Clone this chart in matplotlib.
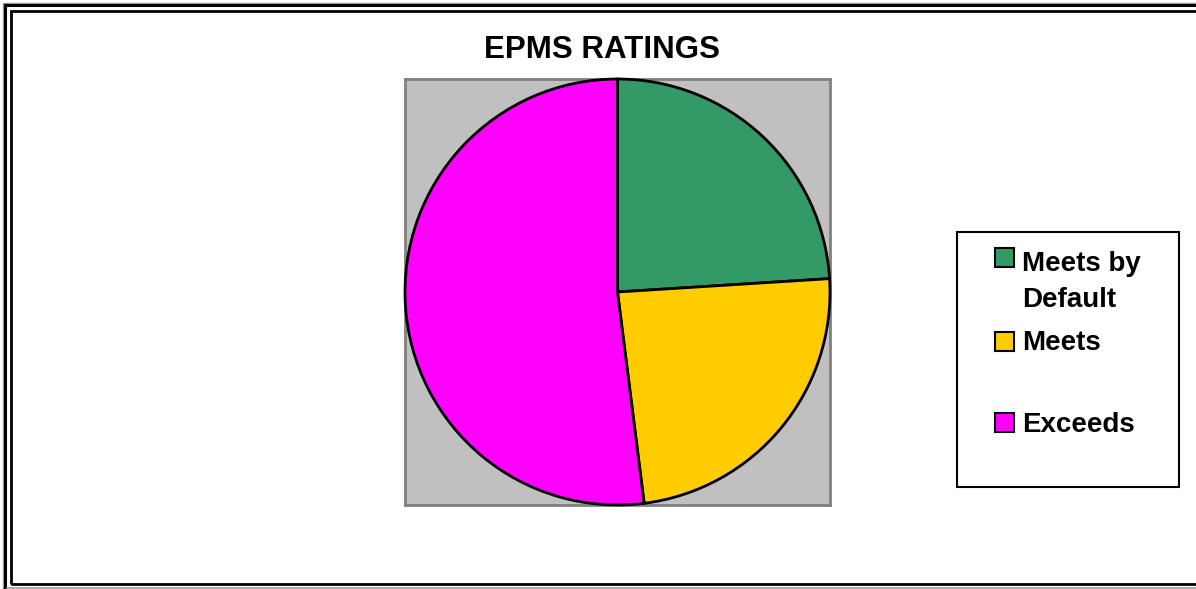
import matplotlib
matplotlib.use("Agg")
import matplotlib.pyplot as plt
from matplotlib.patches import Rectangle
from matplotlib.lines import Line2D

plt.rcParams['font.family'] = ['Liberation Sans', 'DejaVu Sans']

# Rating categories and their counts
categories = ["Meets by\nDefault", "Meets", "Exceeds"]
counts = [6, 6, 13]
colors = ["#339966", "#FFCC00", "#FF00FF"]
title = "EPMS RATINGS"

W, H = 1196, 589
fig = plt.figure(figsize=(W / 100, H / 100), dpi=100)
fig.patch.set_facecolor("white")


def fx(x):
    return x / W


def fy(y):
    return 1 - y / H


def frame_rect(x0, y0, x1, y1, color, lw):
    fig.patches.append(Rectangle((fx(x0), fy(y1)), fx(x1) - fx(x0), fy(y0) - fy(y1),
                                 transform=fig.transFigure, fill=False,
                                 edgecolor=color, linewidth=lw, zorder=0))


# Double border around the chart area
frame_rect(3, 3, 1199, 600, "#999999", 1.0)
frame_rect(5, 5, 1199, 600, "black", 2.2)
frame_rect(10.5, 10.5, 1199, 584, "black", 2.0)
fig.lines.append(Line2D([fx(7), fx(1199)], [fy(587.5), fy(587.5)],
                        transform=fig.transFigure, color="#999999", linewidth=1.2))

# Plot area holding the pie
ax = fig.add_axes([fx(405), fy(505), fx(830) - fx(405), fy(79) - fy(505)])
ax.set_facecolor("#C0C0C0")
wedges, _ = ax.pie(counts, colors=colors, startangle=90, counterclock=False,
                   radius=1.0, center=(0, 0), frame=True,
                   wedgeprops=dict(edgecolor="black", linewidth=2))
for w in wedges:
    w.set_clip_on(False)
    w.set_zorder(3)
ax.set_xlim(-1.0, 1.0)
ax.set_ylim(-1.0, 1.0)
ax.set_aspect("auto")
ax.set_xticks([])
ax.set_yticks([])
for s in ax.spines.values():
    s.set_color("#808080")
    s.set_linewidth(2)

fig.text(fx(601.5), fy(58.5), title, ha="center", va="baseline",
         fontsize=22.5, fontweight="bold")

# Legend box
fig.patches.append(Rectangle((fx(957), fy(487)), fx(1179) - fx(957), fy(232) - fy(487),
                             transform=fig.transFigure, fill=True, facecolor="white",
                             edgecolor="black", linewidth=1.5, zorder=1))
square_centers = [257.5, 341.5, 422.5]
first_baselines = [271, 350, 432]
line_step = 36
for label, color, yc, yb in zip(categories, colors, square_centers, first_baselines):
    fig.patches.append(Rectangle((fx(995), fy(yc + 9)), fx(19), fy(0) - fy(19),
                                 transform=fig.transFigure, facecolor=color,
                                 edgecolor="black", linewidth=1.5, zorder=2))
    for i, line in enumerate(label.split("\n")):
        fig.text(fx(1022), fy(yb + i * line_step), line, ha="left", va="baseline",
                 fontsize=20, fontweight="bold", zorder=3)

fig.savefig("out.png", dpi=100, facecolor="white")
